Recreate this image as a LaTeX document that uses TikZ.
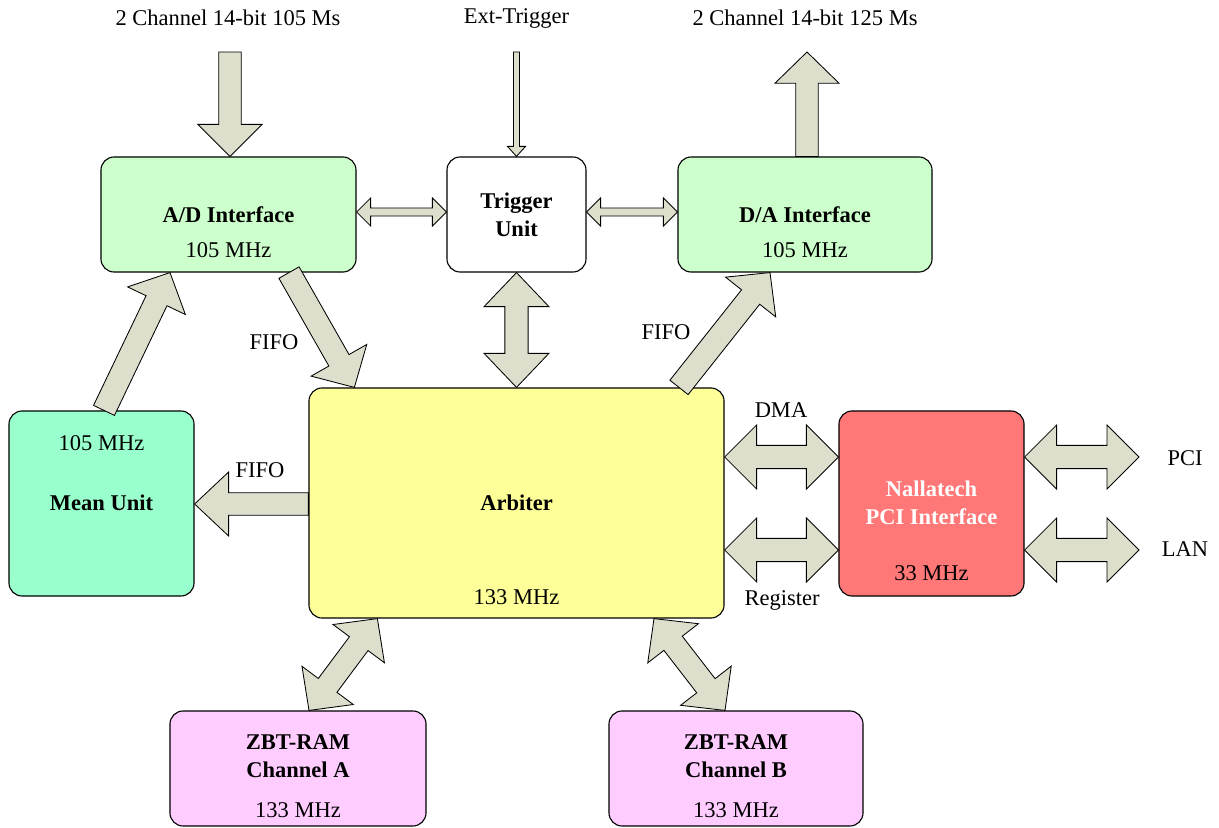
\documentclass[tikz,border=0pt]{standalone}
\usepackage{fontspec}
\setmainfont{Liberation Serif}
\usepackage{tikz}
\usetikzlibrary{calc}

\definecolor{arrowgray}{RGB}{221,223,204}
\definecolor{adgreen}{RGB}{204,255,204}
\definecolor{meangreen}{RGB}{153,255,204}
\definecolor{arbyellow}{RGB}{255,255,153}
\definecolor{pcired}{RGB}{255,119,119}
\definecolor{rampink}{RGB}{255,204,255}

\tikzset{
  box/.style={draw, rounded corners=0.33cm, line width=0.8pt, inner sep=0pt},
  fat/.style={draw, fill=arrowgray, line width=0.6pt, line join=miter},
  txt/.style={inner sep=0pt},
}

% #1 tail, #2 tip, #3 half shaft, #4 half head, #5 head length
\newcommand{\onearrow}[5]{
  \coordinate (ta) at (#1); \coordinate (tb) at (#2);
  \coordinate (hb) at ($(tb)!#5!(ta)$);
  \draw[fat] ($(ta)!#3!90:(tb)$) -- ($(hb)!#3!90:(tb)$) -- ($(hb)!#4!90:(tb)$) -- (tb)
    -- ($(hb)!#4!-90:(tb)$) -- ($(hb)!#3!-90:(tb)$) -- ($(ta)!#3!-90:(tb)$) -- cycle;
}
\newcommand{\twoarrow}[5]{
  \coordinate (ta) at (#1); \coordinate (tb) at (#2);
  \coordinate (ha) at ($(ta)!#5!(tb)$); \coordinate (hb) at ($(tb)!#5!(ta)$);
  \draw[fat] (ta) -- ($(ha)!#4!90:(tb)$) -- ($(ha)!#3!90:(tb)$) -- ($(hb)!#3!90:(tb)$)
    -- ($(hb)!#4!90:(tb)$) -- (tb) -- ($(hb)!#4!-90:(tb)$) -- ($(hb)!#3!-90:(tb)$)
    -- ($(ha)!#3!-90:(tb)$) -- ($(ha)!#4!-90:(tb)$) -- cycle;
}

\begin{document}
\begin{tikzpicture}[x=0.025cm, y=-0.025cm, font=\fontsize{16}{20}\selectfont]
  \useasboundingbox (0,0) rectangle (1219,828);

  \node[box, fill=adgreen, minimum width=6.375cm, minimum height=2.875cm] (ad) at (228.5,214.5) {};
  \node[box, fill=white, minimum width=3.475cm, minimum height=2.875cm] (trig) at (516.5,214.5) {};
  \node[box, fill=adgreen, minimum width=6.35cm, minimum height=2.875cm] (da) at (805,214.5) {};
  \node[box, fill=meangreen, minimum width=4.625cm, minimum height=4.625cm] (mean) at (101.5,503.5) {};
  \node[box, fill=arbyellow, minimum width=10.375cm, minimum height=5.75cm] (arb) at (516.5,503) {};
  \node[box, fill=pcired, minimum width=4.625cm, minimum height=4.625cm] (nal) at (931.5,503.5) {};
  \node[box, fill=rampink, minimum width=6.4cm, minimum height=2.875cm] (zbta) at (298,768.5) {};
  \node[box, fill=rampink, minimum width=6.35cm, minimum height=2.875cm] (zbtb) at (736,768.5) {};

  \node[txt] (adin-l) at (228,18) {2 Channel 14-bit 105 Ms};
  \node[txt] (ext-l) at (516.5,18) {Ext-Trigger};
  \node[txt] (daout-l) at (805,18) {2 Channel 14-bit 125 Ms};
  \node[txt, font=\fontsize{16}{20}\selectfont\bfseries] (ad-l) at (228.5,215) {A/D Interface};
  \node[txt] (ad-f) at (228.5,250) {105 MHz};
  \node[txt, align=center, font=\fontsize{16}{20}\selectfont\bfseries] (trig-l) at (516.5,215) {Trigger\\Unit};
  \node[txt, font=\fontsize{16}{20}\selectfont\bfseries] (da-l) at (805,215) {D/A Interface};
  \node[txt] (da-f) at (805,250) {105 MHz};
  \node[txt] (mean-f) at (101.5,443) {105 MHz};
  \node[txt, font=\fontsize{16}{20}\selectfont\bfseries] (mean-l) at (101.5,503) {Mean Unit};
  \node[txt, font=\fontsize{16}{20}\selectfont\bfseries] (arb-l) at (516.5,503) {Arbiter};
  \node[txt] (arb-f) at (516.5,597) {133 MHz};
  \node[txt, align=center, text=white, font=\fontsize{16}{20}\selectfont\bfseries] (nal-l) at (931.5,503) {Nallatech\\PCI Interface};
  \node[txt] (nal-f) at (931.5,573) {33 MHz};
  \node[txt, align=center, font=\fontsize{16}{20}\selectfont\bfseries] (zbta-l) at (298,756) {ZBT-RAM\\Channel A};
  \node[txt] (zbta-f) at (298,810) {133 MHz};
  \node[txt, align=center, font=\fontsize{16}{20}\selectfont\bfseries] (zbtb-l) at (736,756) {ZBT-RAM\\Channel B};
  \node[txt] (zbtb-f) at (736,810) {133 MHz};
  \node[txt] (fifo1) at (274,342) {FIFO};
  \node[txt] (fifo2) at (666,332) {FIFO};
  \node[txt] (fifo3) at (260,470) {FIFO};
  \node[txt] (dma) at (781,410) {DMA};
  \node[txt] (reg) at (782,600) {Register};
  \node[txt] (pci) at (1185,458) {PCI};
  \node[txt] (lan) at (1185,549) {LAN};

  \coordinate (adin) at (230,52);
  \coordinate (extin) at (516.5,52);
  \coordinate (daout) at (807,52);
  \coordinate (pciend) at (1139,457);
  \coordinate (lanend) at (1139,550);

  \onearrow{adin}{$(ad.north)+(1.5,0)$}{0.28cm}{0.8cm}{0.8cm}
  \onearrow{extin}{trig.north}{0.075cm}{0.225cm}{0.25cm}
  \onearrow{$(da.north)+(2,0)$}{daout}{0.28cm}{0.8cm}{0.78cm}
  \twoarrow{$(ad.east)+(0,-2.5)$}{$(trig.west)+(0,-2.5)$}{0.1cm}{0.35cm}{0.35cm}
  \twoarrow{$(trig.east)+(0,-2.5)$}{$(da.west)+(0,-2.5)$}{0.1cm}{0.35cm}{0.35cm}
  \twoarrow{trig.south}{arb.north}{0.29cm}{0.81cm}{0.85cm}
  \onearrow{$(ad.south)+(60.5,0)$}{$(arb.north west)+(46,0)$}{0.29cm}{0.8cm}{0.78cm}
  \onearrow{$(mean.north)+(2.5,0)$}{$(ad.south)+(-58.5,0)$}{0.29cm}{0.8cm}{0.78cm}
  \onearrow{$(arb.north)+(162.5,0)$}{$(da.south)+(-35,0)$}{0.29cm}{0.8cm}{0.78cm}
  \onearrow{$(arb.west)+(0,1)$}{$(mean.east)+(0,0.5)$}{0.28cm}{0.8cm}{0.85cm}
  \twoarrow{$(arb.east)+(0,-46)$}{$(nal.west)+(0,-46.5)$}{0.29cm}{0.8cm}{0.8cm}
  \twoarrow{$(arb.east)+(0,47)$}{$(nal.west)+(0,46.5)$}{0.29cm}{0.8cm}{0.8cm}
  \twoarrow{$(nal.east)+(0,-46.5)$}{pciend}{0.29cm}{0.8cm}{0.8cm}
  \twoarrow{$(nal.east)+(0,46.5)$}{lanend}{0.29cm}{0.8cm}{0.8cm}
  \twoarrow{$(arb.south west)+(69,0)$}{$(zbta.north)+(11,0)$}{0.29cm}{0.8cm}{0.78cm}
  \twoarrow{$(arb.south)+(137.5,0)$}{$(zbtb.north)+(-11,0)$}{0.29cm}{0.8cm}{0.78cm}
\end{tikzpicture}
\end{document}
